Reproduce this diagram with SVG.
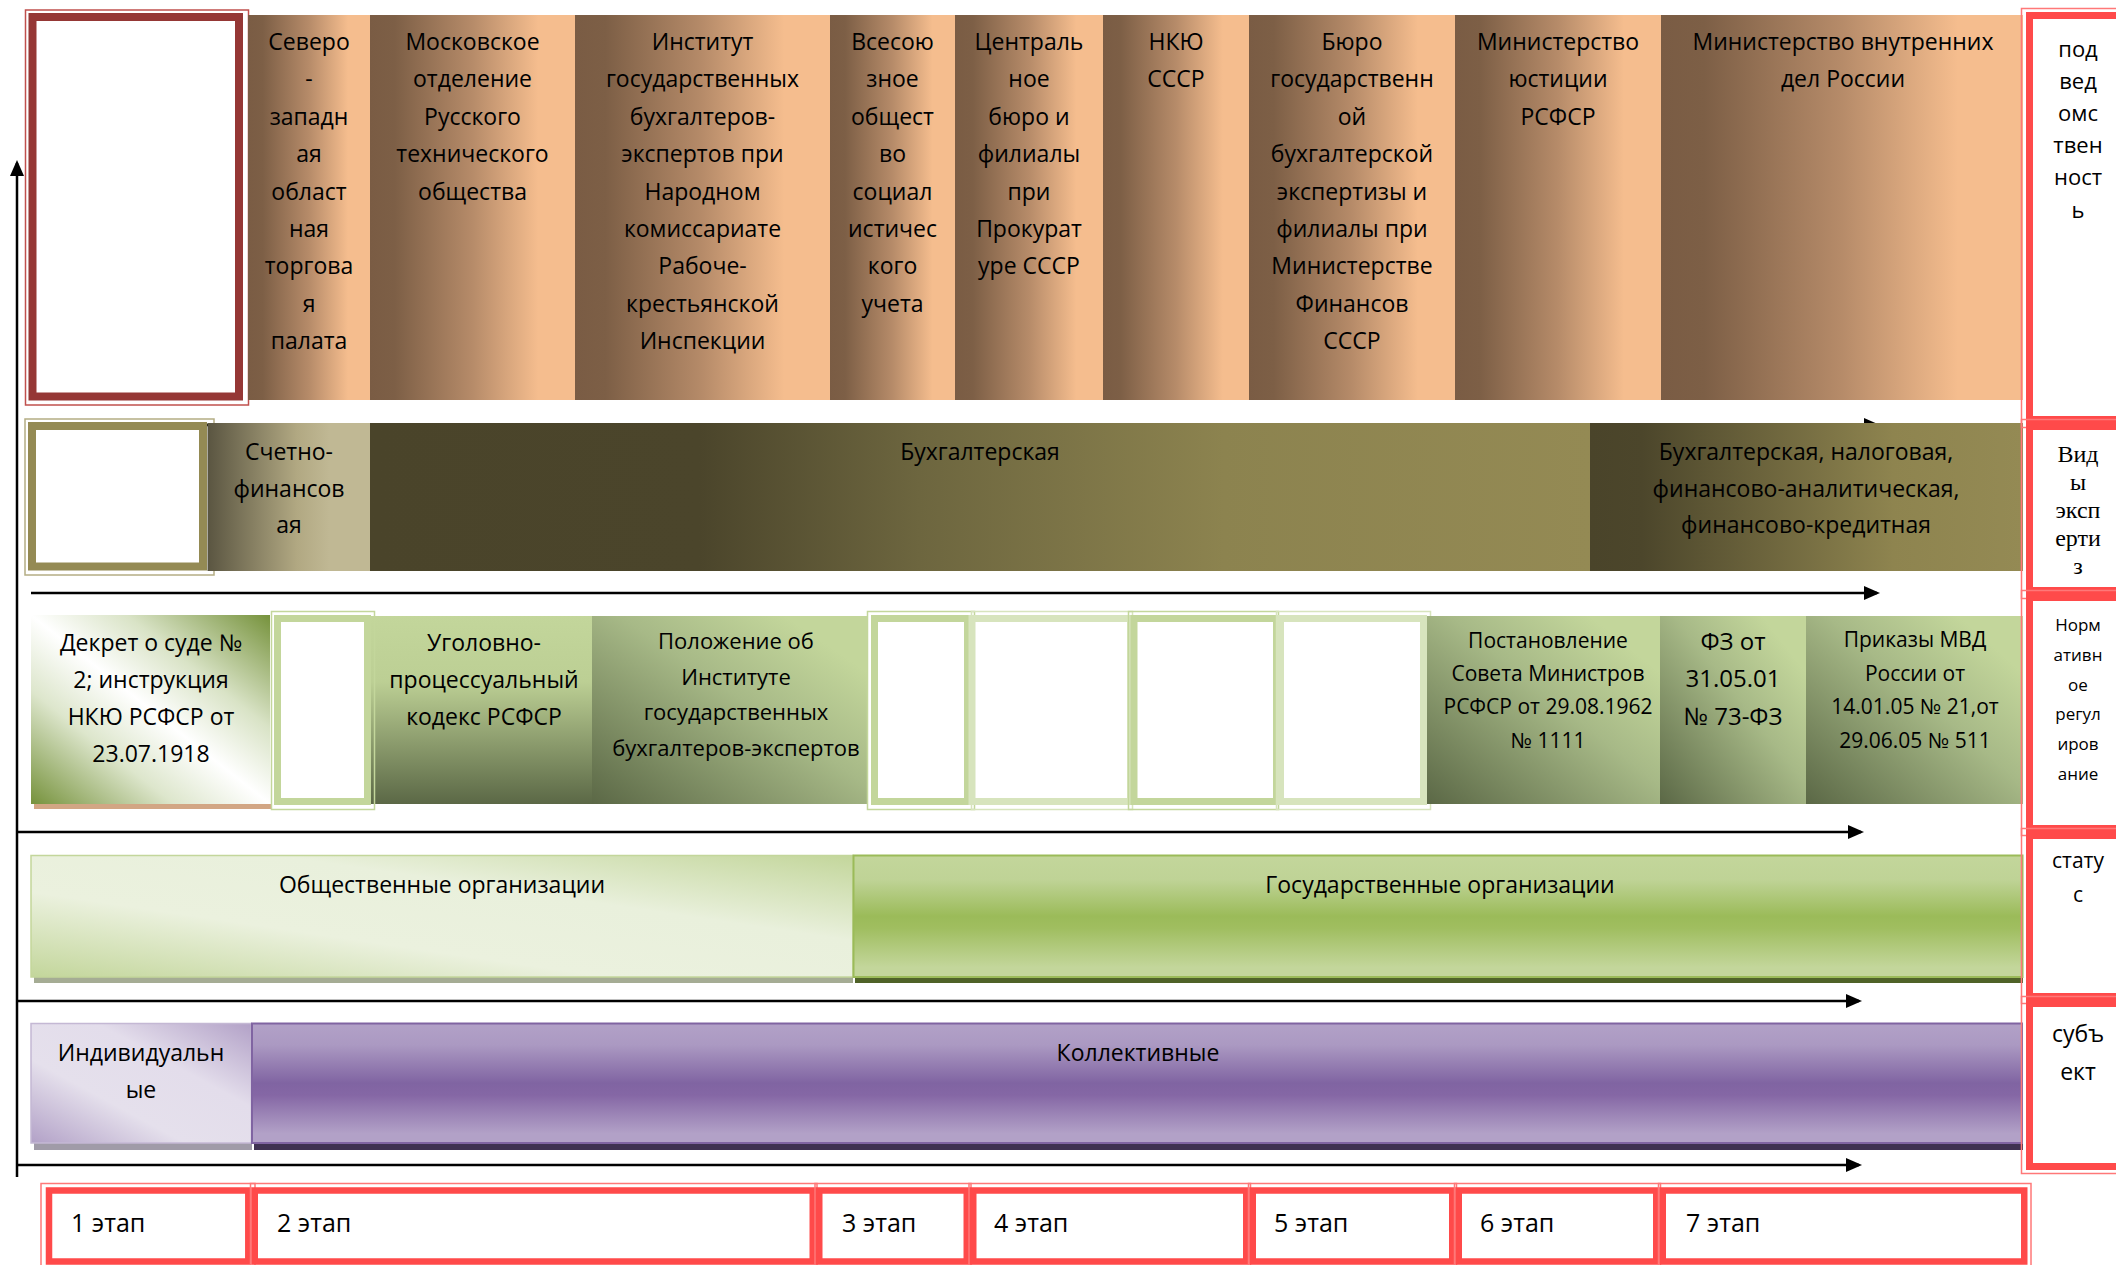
<svg xmlns="http://www.w3.org/2000/svg" width="2116" height="1265" viewBox="0 0 2116 1265">
<style>
text{font-family:"Open Sans","Noto Sans","DejaVu Sans",sans-serif;fill:#000;font-size:23px;text-anchor:middle}
.l{text-anchor:start;font-size:25px}
.f21{font-size:21px}
.f22{font-size:22px}
.f24{font-size:24px}
.f17{font-size:17px}
.serif{font-family:"Liberation Serif","Times New Roman",serif;font-size:24px}
.ax{stroke:#000;stroke-width:2.5;fill:none}
.thinR{fill:none;stroke:#ff7878;stroke-width:1.5}
.thickR{fill:#fff;stroke:#ff4a4a;stroke-width:7}
.stR{fill:#fff;stroke:#ff4a4a;stroke-width:6.5}
.grF{fill:#fff;stroke:#c3d69b;stroke-width:7}
.grL{fill:#fff;stroke:#d7e4bd;stroke-width:7}
.grT{fill:none;stroke:#c3d69b;stroke-width:1.5}
.grTL{fill:none;stroke:#d7e4bd;stroke-width:1.5}
</style>
<defs>
<marker id="ah" markerUnits="userSpaceOnUse" markerWidth="17" markerHeight="15" refX="13" refY="7" orient="auto">
<path d="M0,0 L16,7 L0,14 Z" fill="#000"/>
</marker>
<linearGradient id="gBrown" x1="0" y1="0" x2="1" y2="0">
<stop offset="0" stop-color="#7a5c44"/><stop offset="0.12" stop-color="#7d5f46"/><stop offset="0.5" stop-color="#b68b69"/><stop offset="0.82" stop-color="#f5bd8e"/><stop offset="1" stop-color="#f5bd8e"/>
</linearGradient>
<linearGradient id="gSchet" x1="0" y1="0" x2="1" y2="0">
<stop offset="0" stop-color="#5a5541"/><stop offset="0.55" stop-color="#b1a882"/><stop offset="0.75" stop-color="#c0b894"/><stop offset="1" stop-color="#c0b894"/>
</linearGradient>
<linearGradient id="gBuh" x1="0" y1="0" x2="1" y2="0">
<stop offset="0" stop-color="#4a442a"/><stop offset="0.27" stop-color="#4b452b"/><stop offset="0.45" stop-color="#6d663f"/><stop offset="0.7" stop-color="#8c834f"/><stop offset="1" stop-color="#948a54"/>
</linearGradient>
<linearGradient id="gBuh2" x1="0" y1="0" x2="1" y2="0">
<stop offset="0" stop-color="#4a442a"/><stop offset="0.12" stop-color="#4c462b"/><stop offset="0.7" stop-color="#8e844f"/><stop offset="1" stop-color="#948a54"/>
</linearGradient>
<linearGradient id="gDekret" x1="1" y1="0" x2="0" y2="1">
<stop offset="0" stop-color="#76923c"/><stop offset="0.3" stop-color="#d9e3c6"/><stop offset="0.5" stop-color="#ffffff"/><stop offset="0.7" stop-color="#dde6cc"/><stop offset="1" stop-color="#76923c"/>
</linearGradient>
<linearGradient id="gUgol" x1="0" y1="0" x2="0" y2="1">
<stop offset="0" stop-color="#c3d69b"/><stop offset="0.35" stop-color="#bccf94"/><stop offset="1" stop-color="#5b6846"/>
</linearGradient>
<linearGradient id="gDiag" x1="0" y1="1" x2="1" y2="0">
<stop offset="0" stop-color="#5b6846"/><stop offset="0.55" stop-color="#a7b987"/><stop offset="0.85" stop-color="#c3d69b"/><stop offset="1" stop-color="#c3d69b"/>
</linearGradient>
<linearGradient id="gObsh" x1="1" y1="0" x2="0" y2="1">
<stop offset="0" stop-color="#c3d69b"/><stop offset="0.35" stop-color="#e9f0dc"/><stop offset="0.65" stop-color="#ebf1de"/><stop offset="1" stop-color="#c3d69b"/>
</linearGradient>
<linearGradient id="gGos" x1="0" y1="0" x2="0" y2="1">
<stop offset="0" stop-color="#c3d69b"/><stop offset="0.2" stop-color="#bfd396"/><stop offset="0.5" stop-color="#9bbb59"/><stop offset="0.6" stop-color="#a0be60"/><stop offset="0.92" stop-color="#c3d69b"/><stop offset="1" stop-color="#c3d69b"/>
</linearGradient>
<linearGradient id="gInd" x1="1" y1="0" x2="0" y2="1">
<stop offset="0" stop-color="#b2a1c7"/><stop offset="0.35" stop-color="#e3ddeb"/><stop offset="0.65" stop-color="#e5e0ec"/><stop offset="1" stop-color="#b2a1c7"/>
</linearGradient>
<linearGradient id="gKol" x1="0" y1="0" x2="0" y2="1">
<stop offset="0" stop-color="#b2a1c7"/><stop offset="0.18" stop-color="#ab99c2"/><stop offset="0.5" stop-color="#8064a2"/><stop offset="0.6" stop-color="#8567a5"/><stop offset="0.92" stop-color="#b2a1c7"/><stop offset="1" stop-color="#b2a1c7"/>
</linearGradient>
</defs>

<rect width="2116" height="1265" fill="#fff"/>

<g id="connectors">
<line class="ax" x1="17" y1="1177" x2="17" y2="163" marker-end="url(#ah)"/>
<line class="ax" x1="31" y1="425" x2="1877" y2="425" marker-end="url(#ah)"/>
<line class="ax" x1="31" y1="593" x2="1877" y2="593" marker-end="url(#ah)"/>
<line class="ax" x1="17" y1="832" x2="1861" y2="832" marker-end="url(#ah)"/>
<line class="ax" x1="17" y1="1001" x2="1859" y2="1001" marker-end="url(#ah)"/>
<line class="ax" x1="17" y1="1165" x2="1859" y2="1165" marker-end="url(#ah)"/>
</g>

<!-- Row 1 -->
<g id="label-row1">
<rect x="25.5" y="10" width="223" height="395" fill="none" stroke="#c0504d" stroke-width="1.5"/>
<rect x="32.5" y="17" width="206.5" height="379.5" fill="#fff" stroke="#953735" stroke-width="8"/>
</g>
<g id="c1">
<rect x="248" y="15" width="122" height="385" fill="url(#gBrown)"/>
<text><tspan x="309" y="50">Северо</tspan><tspan x="309" y="87.4">-</tspan><tspan x="309" y="124.8">западн</tspan><tspan x="309" y="162.2">ая</tspan><tspan x="309" y="199.6">област</tspan><tspan x="309" y="237">ная</tspan><tspan x="309" y="274.4">торгова</tspan><tspan x="309" y="311.8">я</tspan><tspan x="309" y="349.2">палата</tspan></text>
</g>
<g id="c2">
<rect x="370" y="15" width="205" height="385" fill="url(#gBrown)"/>
<text><tspan x="472.5" y="50">Московское</tspan><tspan x="472.5" y="87.4">отделение</tspan><tspan x="472.5" y="124.8">Русского</tspan><tspan x="472.5" y="162.2">технического</tspan><tspan x="472.5" y="199.6">общества</tspan></text>
</g>
<g id="c3">
<rect x="575" y="15" width="255" height="385" fill="url(#gBrown)"/>
<text><tspan x="702.5" y="50">Институт</tspan><tspan x="702.5" y="87.4">государственных</tspan><tspan x="702.5" y="124.8">бухгалтеров-</tspan><tspan x="702.5" y="162.2">экспертов при</tspan><tspan x="702.5" y="199.6">Народном</tspan><tspan x="702.5" y="237">комиссариате</tspan><tspan x="702.5" y="274.4">Рабоче-</tspan><tspan x="702.5" y="311.8">крестьянской</tspan><tspan x="702.5" y="349.2">Инспекции</tspan></text>
</g>
<g id="c4">
<rect x="830" y="15" width="125" height="385" fill="url(#gBrown)"/>
<text><tspan x="892.5" y="50">Всесою</tspan><tspan x="892.5" y="87.4">зное</tspan><tspan x="892.5" y="124.8">общест</tspan><tspan x="892.5" y="162.2">во</tspan><tspan x="892.5" y="199.6">социал</tspan><tspan x="892.5" y="237">истичес</tspan><tspan x="892.5" y="274.4">кого</tspan><tspan x="892.5" y="311.8">учета</tspan></text>
</g>
<g id="c5">
<rect x="955" y="15" width="148" height="385" fill="url(#gBrown)"/>
<text><tspan x="1029" y="50">Централь</tspan><tspan x="1029" y="87.4">ное</tspan><tspan x="1029" y="124.8">бюро и</tspan><tspan x="1029" y="162.2">филиалы</tspan><tspan x="1029" y="199.6">при</tspan><tspan x="1029" y="237">Прокурат</tspan><tspan x="1029" y="274.4">уре СССР</tspan></text>
</g>
<g id="c6">
<rect x="1103" y="15" width="146" height="385" fill="url(#gBrown)"/>
<text><tspan x="1176" y="50">НКЮ</tspan><tspan x="1176" y="87.4">СССР</tspan></text>
</g>
<g id="c7">
<rect x="1249" y="15" width="206" height="385" fill="url(#gBrown)"/>
<text><tspan x="1352" y="50">Бюро</tspan><tspan x="1352" y="87.4">государственн</tspan><tspan x="1352" y="124.8">ой</tspan><tspan x="1352" y="162.2">бухгалтерской</tspan><tspan x="1352" y="199.6">экспертизы и</tspan><tspan x="1352" y="237">филиалы при</tspan><tspan x="1352" y="274.4">Министерстве</tspan><tspan x="1352" y="311.8">Финансов</tspan><tspan x="1352" y="349.2">СССР</tspan></text>
</g>
<g id="c8">
<rect x="1455" y="15" width="206" height="385" fill="url(#gBrown)"/>
<text><tspan x="1558" y="50">Министерство</tspan><tspan x="1558" y="87.4">юстиции</tspan><tspan x="1558" y="124.8">РСФСР</tspan></text>
</g>
<g id="c9">
<rect x="1661" y="15" width="362" height="385" fill="url(#gBrown)"/>
<text><tspan x="1843" y="50">Министерство внутренних</tspan><tspan x="1843" y="87.4">дел России</tspan></text>
</g>

<!-- Row 2 -->
<g id="label-row2">
<rect x="25" y="419" width="189" height="156" fill="none" stroke="#b4ad84" stroke-width="1.5"/>
<rect x="32" y="426" width="171" height="140.5" fill="#fff" stroke="#948a54" stroke-width="8"/>
</g>
<g id="e1">
<rect x="207.5" y="423" width="162.5" height="148" fill="url(#gSchet)"/>
<text><tspan x="289" y="460">Счетно-</tspan><tspan x="289" y="497">финансов</tspan><tspan x="289" y="533">ая</tspan></text>
</g>
<g id="e2">
<rect x="370" y="423" width="1220" height="148" fill="url(#gBuh)"/>
<text x="980" y="460">Бухгалтерская</text>
</g>
<g id="e3">
<rect x="1590" y="423" width="433" height="148" fill="url(#gBuh2)"/>
<text><tspan x="1806" y="460">Бухгалтерская, налоговая,</tspan><tspan x="1806" y="497">финансово-аналитическая,</tspan><tspan x="1806" y="533">финансово-кредитная</tspan></text>
</g>

<!-- Row 3 -->
<g id="n1">
<rect x="34" y="804" width="238" height="5" fill="#d2a684"/>
<rect x="31" y="615" width="239" height="189" fill="url(#gDekret)"/>
<text><tspan x="151" y="651">Декрет о суде №</tspan><tspan x="151" y="688">2; инструкция</tspan><tspan x="151" y="725">НКЮ РСФСР от</tspan><tspan x="151" y="762">23.07.1918</tspan></text>
</g>
<g id="n2">
<rect x="370" y="616" width="222" height="188" fill="url(#gUgol)"/>
<text><tspan x="484" y="651">Уголовно-</tspan><tspan x="484" y="688">процессуальный</tspan><tspan x="484" y="725">кодекс РСФСР</tspan></text>
</g>
<g id="f1">
<rect class="grT" x="271.5" y="611.5" width="103" height="198"/>
<rect class="grF" x="277.5" y="618.5" width="90" height="183"/>
</g>
<g id="n3">
<rect x="592" y="616" width="276" height="188" fill="url(#gDiag)"/>
<text class="f22"><tspan x="736" y="649">Положение об</tspan><tspan x="736" y="685">Институте</tspan><tspan x="736" y="720">государственных</tspan><tspan x="736" y="756">бухгалтеров-экспертов</tspan></text>
</g>
<g id="f2">
<rect class="grT" x="867.5" y="611.5" width="107" height="198"/>
<rect class="grF" x="874.5" y="618.5" width="93" height="183"/>
</g>
<g id="f3">
<rect class="grTL" x="971.5" y="611.5" width="161" height="198"/>
<rect class="grL" x="972" y="618.5" width="158.5" height="183"/>
</g>
<g id="f4">
<rect class="grT" x="1128.5" y="611.5" width="150" height="198"/>
<rect class="grF" x="1134" y="618.5" width="142.5" height="183"/>
</g>
<g id="f5">
<rect class="grTL" x="1276.5" y="611.5" width="154" height="198"/>
<rect class="grL" x="1280.5" y="618.5" width="143" height="183"/>
</g>
<g id="n4">
<rect x="1427" y="616" width="233" height="188" fill="url(#gDiag)"/>
<text class="f21"><tspan x="1548" y="648">Постановление</tspan><tspan x="1548" y="681">Совета Министров</tspan><tspan x="1548" y="714">РСФСР от 29.08.1962</tspan><tspan x="1548" y="748">№ 1111</tspan></text>
</g>
<g id="n5">
<rect x="1660" y="616" width="146" height="188" fill="url(#gDiag)"/>
<text class="f24"><tspan x="1733" y="650">ФЗ от</tspan><tspan x="1733" y="687">31.05.01</tspan><tspan x="1733" y="725">№ 73-ФЗ</tspan></text>
</g>
<g id="n6">
<rect x="1806" y="616" width="217" height="188" fill="url(#gDiag)"/>
<text class="f21"><tspan x="1915" y="647">Приказы МВД</tspan><tspan x="1915" y="681">России от</tspan><tspan x="1915" y="714">14.01.05 № 21,от</tspan><tspan x="1915" y="748">29.06.05 № 511</tspan></text>
</g>

<!-- Row 4 -->
<g id="s1">
<rect x="34" y="977" width="819" height="6" fill="#a5ac94"/>
<rect x="31" y="855.5" width="822" height="121.5" fill="url(#gObsh)" stroke="#c3d69b" stroke-width="1.5"/>
<text x="442" y="893">Общественные организации</text>
</g>
<g id="s2">
<rect x="855" y="977" width="1168" height="6" fill="#4f6228"/>
<rect x="853.5" y="855.5" width="1169" height="121.5" fill="url(#gGos)" stroke="#9bbb59" stroke-width="2"/>
<text x="1440" y="893">Государственные организации</text>
</g>

<!-- Row 5 -->
<g id="p1">
<rect x="34" y="1143" width="218" height="7" fill="#a09ba8"/>
<rect x="31" y="1023.5" width="220.5" height="119.5" fill="url(#gInd)" stroke="#c4b8d4" stroke-width="1.5"/>
<text><tspan x="141" y="1061">Индивидуальн</tspan><tspan x="141" y="1098">ые</tspan></text>
</g>
<g id="p2">
<rect x="254" y="1143" width="1769" height="7" fill="#3f3151"/>
<rect x="252" y="1023.5" width="1770" height="119.5" fill="url(#gKol)" stroke="#8064a2" stroke-width="2"/>
<text x="1138" y="1061">Коллективные</text>
</g>

<!-- Right column labels -->
<g id="r1">
<rect class="thinR" x="2021.5" y="8.5" width="120" height="419"/>
<rect class="thickR" x="2029.5" y="15.5" width="110" height="404"/>
<text class="f22"><tspan x="2078" y="57">под</tspan><tspan x="2078" y="89">вед</tspan><tspan x="2078" y="121">омс</tspan><tspan x="2078" y="153">твен</tspan><tspan x="2078" y="185">ност</tspan><tspan x="2078" y="218">ь</tspan></text>
</g>
<g id="r2">
<rect class="thinR" x="2021.5" y="419.5" width="120" height="179"/>
<rect class="thickR" x="2029.5" y="426.5" width="110" height="164"/>
<text class="serif"><tspan x="2078" y="462">Вид</tspan><tspan x="2078" y="490">ы</tspan><tspan x="2078" y="518">эксп</tspan><tspan x="2078" y="546">ерти</tspan><tspan x="2078" y="574">з</tspan></text>
</g>
<g id="r3">
<rect class="thinR" x="2021.5" y="590.5" width="120" height="245"/>
<rect class="thickR" x="2029.5" y="597.5" width="110" height="231"/>
<text class="f17"><tspan x="2078" y="631">Норм</tspan><tspan x="2078" y="661">ативн</tspan><tspan x="2078" y="691">ое</tspan><tspan x="2078" y="720">регул</tspan><tspan x="2078" y="750">иров</tspan><tspan x="2078" y="780">ание</tspan></text>
</g>
<g id="r4">
<rect class="thinR" x="2021.5" y="828.5" width="120" height="175"/>
<rect class="thickR" x="2029.5" y="835.5" width="110" height="161"/>
<text class="f21"><tspan x="2078" y="868">стату</tspan><tspan x="2078" y="902">с</tspan></text>
</g>
<g id="r5">
<rect class="thinR" x="2021.5" y="996.5" width="120" height="177"/>
<rect class="thickR" x="2029.5" y="1003.5" width="110" height="163"/>
<text><tspan x="2078" y="1042">субъ</tspan><tspan x="2078" y="1080">ект</tspan></text>
</g>

<!-- Stages -->
<g id="st1"><rect class="thinR" x="41" y="1183.5" width="214" height="85"/><rect class="stR" x="49" y="1190.5" width="199.3" height="71"/><text class="l" x="71" y="1232">1 этап</text></g>
<g id="st2"><rect class="thinR" x="250.5" y="1183.5" width="566.5" height="85"/><rect class="stR" x="254.75" y="1190.5" width="558" height="71"/><text class="l" x="277" y="1232">2 этап</text></g>
<g id="st3"><rect class="thinR" x="815" y="1183.5" width="156" height="85"/><rect class="stR" x="819.25" y="1190.5" width="147.5" height="71"/><text class="l" x="842" y="1232">3 этап</text></g>
<g id="st4"><rect class="thinR" x="969" y="1183.5" width="281.5" height="85"/><rect class="stR" x="973.25" y="1190.5" width="273" height="71"/><text class="l" x="994" y="1232">4 этап</text></g>
<g id="st5"><rect class="thinR" x="1248.5" y="1183.5" width="208" height="85"/><rect class="stR" x="1252.75" y="1190.5" width="199.5" height="71"/><text class="l" x="1274" y="1232">5 этап</text></g>
<g id="st6"><rect class="thinR" x="1454.5" y="1183.5" width="206" height="85"/><rect class="stR" x="1458.75" y="1190.5" width="197.5" height="71"/><text class="l" x="1480" y="1232">6 этап</text></g>
<g id="st7"><rect class="thinR" x="1658.5" y="1183.5" width="372.5" height="85"/><rect class="stR" x="1662.75" y="1190.5" width="361.5" height="71"/><text class="l" x="1686" y="1232">7 этап</text></g>
</svg>
